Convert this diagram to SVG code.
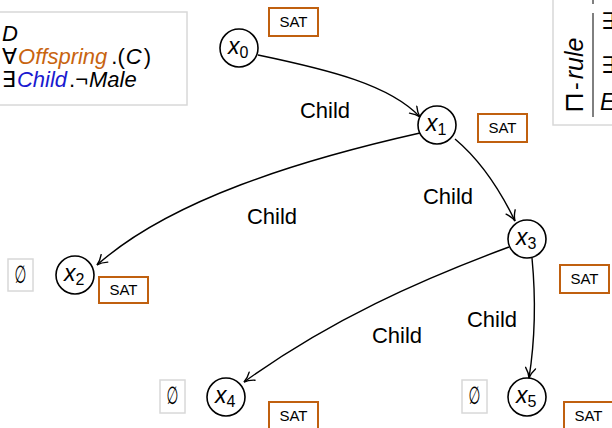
<svg xmlns="http://www.w3.org/2000/svg" width="612" height="428" viewBox="0 0 612 428">
  <style>
    text { font-family: "Liberation Sans", "DejaVu Sans", sans-serif; fill: #000; }
    .node circle { fill: #fff; stroke: #000; stroke-width: 1.6; }
    .var { font-size: 23px; font-style: italic; }
    .sub { font-size: 16px; font-style: normal; }
    .sat rect { fill: #fff; stroke: #c0600f; stroke-width: 2; }
    .sat text { font-size: 15px; text-anchor: middle; }
    .empty rect { fill: #fff; stroke: #d8d8d8; stroke-width: 1.5; }
    .empty text { font-size: 17px; text-anchor: middle; font-family: "DejaVu Sans", sans-serif; }
    .edge path { fill: none; stroke: #000; stroke-width: 1.4; marker-end: url(#arr); }
    .lbl { font-size: 22px; text-anchor: middle; }
    .panel { fill: #fff; stroke: #d8d8d8; stroke-width: 1.5; }
    .concept { font-size: 22px; }
    .rule { font-size: 23px; }
    .it { font-style: italic; }
    .role-o { fill: #c8640f; }
    .role-c { fill: #1a1ad0; }
  </style>
  <defs>
    <marker id="arr" viewBox="-1 -6 12 12" refX="10" refY="0" markerWidth="12" markerHeight="12" markerUnits="userSpaceOnUse" orient="auto">
      <path d="M0,-5 Q5,-1 10,0 Q5,1 0,5" fill="none" stroke="#000" stroke-width="1.4" stroke-linecap="round"/>
    </marker>
  </defs>

  <!-- concept list panel -->
  <g id="concepts">
    <rect class="panel" x="-2" y="12" width="189" height="93"/>
    <text class="concept it" x="2" y="41">D</text>
    <text class="concept" x="2" y="64">∀<tspan class="it role-o" dx="1">Offspring</tspan><tspan dx="4">.(</tspan><tspan class="it" dx="1">C</tspan><tspan dx="2">)</tspan></text>
    <text class="concept" x="2" y="87">∃<tspan class="it role-c" dx="1">Child</tspan><tspan dx="2">.¬</tspan><tspan class="it" dx="1">Male</tspan></text>
  </g>

  <!-- rule panel -->
  <g id="rule-panel">
    <rect class="panel" x="553" y="-2" width="70" height="127"/>
    <line x1="593" y1="0" x2="593" y2="4" stroke="#000" stroke-width="1"/>
    <line x1="593" y1="13" x2="593" y2="117" stroke="#000" stroke-width="1"/>
    <text class="rule" transform="translate(583,113) rotate(-90)"><tspan font-size="27">⊓</tspan><tspan dx="2">-</tspan><tspan class="it" dx="3" font-size="25">rule</tspan></text>
    <text class="rule" x="601" y="29">∃</text>
    <text class="rule" x="601" y="73">∃</text>
    <text class="rule it" x="600" y="110">E</text>
  </g>

  <!-- connectors -->
  <g id="edges" class="edge">
    <path d="M258,55 C330,70 390,85 420,117"/>
    <path d="M420,133 C300,160 170,200 97,265"/>
    <path d="M455,139 C480,160 500,190 515,221"/>
    <path d="M509,247 C420,280 330,320 244,382"/>
    <path d="M532,258 C536,300 535,340 529,378"/>
  </g>
  <g id="edge-labels">
    <text class="lbl" x="325" y="118">Child</text>
    <text class="lbl" x="272" y="224">Child</text>
    <text class="lbl" x="448" y="204">Child</text>
    <text class="lbl" x="397" y="343">Child</text>
    <text class="lbl" x="492" y="327">Child</text>
  </g>

  <!-- individuals -->
  <g id="x0" class="node">
    <circle cx="239" cy="48" r="19"/>
    <text class="var" x="228" y="54">x<tspan class="sub" dy="4">0</tspan></text>
  </g>
  <g id="x1" class="node">
    <circle cx="437" cy="125" r="19"/>
    <text class="var" x="426" y="131">x<tspan class="sub" dy="4">1</tspan></text>
  </g>
  <g id="x2" class="node">
    <circle cx="75" cy="275" r="19"/>
    <text class="var" x="64" y="281">x<tspan class="sub" dy="4">2</tspan></text>
  </g>
  <g id="x3" class="node">
    <circle cx="527" cy="239" r="19"/>
    <text class="var" x="516" y="245">x<tspan class="sub" dy="4">3</tspan></text>
  </g>
  <g id="x4" class="node">
    <circle cx="226" cy="397" r="19"/>
    <text class="var" x="215" y="403">x<tspan class="sub" dy="4">4</tspan></text>
  </g>
  <g id="x5" class="node">
    <circle cx="527" cy="397" r="19"/>
    <text class="var" x="516" y="403">x<tspan class="sub" dy="4">5</tspan></text>
  </g>

  <!-- status tags -->
  <g id="sat-x0" class="sat"><rect x="269" y="8" width="49" height="28"/><text x="293.5" y="27">SAT</text></g>
  <g id="sat-x1" class="sat"><rect x="478" y="114" width="49" height="28"/><text x="502.5" y="133">SAT</text></g>
  <g id="sat-x2" class="sat"><rect x="99" y="277" width="49" height="26"/><text x="123.5" y="295">SAT</text></g>
  <g id="sat-x3" class="sat"><rect x="560" y="265" width="49" height="28"/><text x="584.5" y="284">SAT</text></g>
  <g id="sat-x4" class="sat"><rect x="269" y="402" width="49" height="30"/><text x="293.5" y="421">SAT</text></g>
  <g id="sat-x5" class="sat"><rect x="564" y="402" width="52" height="30"/><text x="588.5" y="421">SAT</text></g>

  <!-- empty label sets, drawn as a tall slashed oval glyph -->
  <g id="empty-x2" class="empty"><rect x="8" y="259" width="25" height="32"/><text transform="translate(20.5,283) scale(0.8,1.45)">∅</text></g>
  <g id="empty-x4" class="empty"><rect x="160" y="380" width="25" height="33"/><text transform="translate(172.5,404) scale(0.8,1.45)">∅</text></g>
  <g id="empty-x5" class="empty"><rect x="462" y="380" width="25" height="33"/><text transform="translate(474.5,404) scale(0.8,1.45)">∅</text></g>
</svg>
